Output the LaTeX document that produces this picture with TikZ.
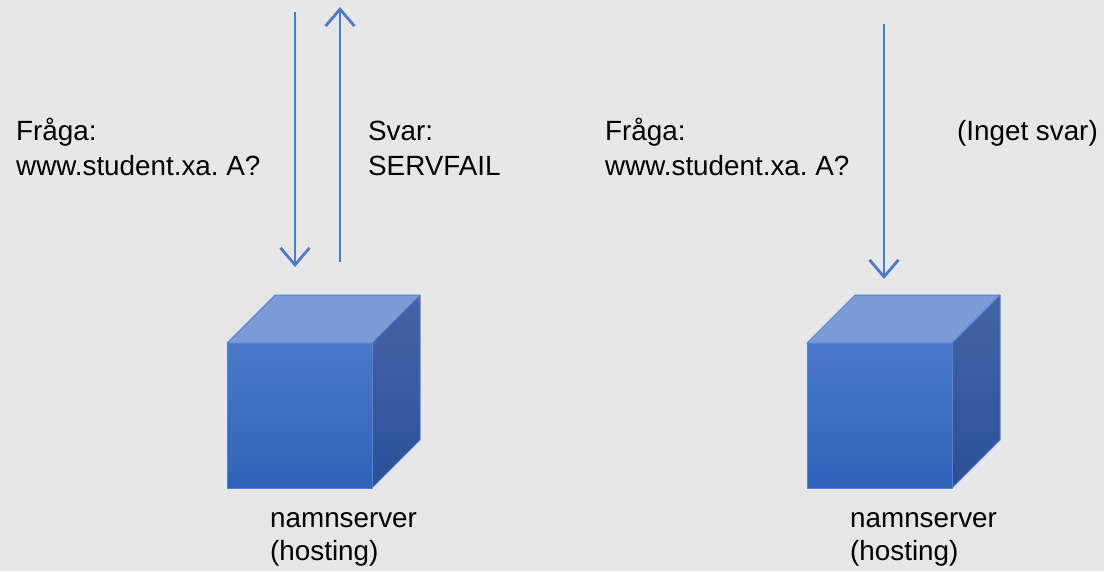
\documentclass[tikz,border=0pt]{standalone}
\usepackage{fontspec}
\setmainfont{Liberation Sans}
\frenchspacing
\usetikzlibrary{arrows.meta}
\definecolor{bgc}{HTML}{E7E7E7}
\definecolor{arrowc}{HTML}{4A7BCC}
\definecolor{fronttop}{HTML}{4B79C9}
\definecolor{frontbot}{HTML}{2F62B9}
\definecolor{topc}{HTML}{7A9BD6}
\definecolor{sidetop}{HTML}{4664A6}
\definecolor{sidebot}{HTML}{2A5098}
\definecolor{edgec}{HTML}{5482D0}
\tikzset{
  lbl/.style={anchor=base west,inner sep=0pt,font=\fontsize{27.8}{35}\selectfont\frenchspacing,align=left,text=black},
  cubelbl/.style={lbl,font=\fontsize{27.8}{33}\selectfont\frenchspacing},
  msg/.style={draw=arrowc,line width=2.8pt,-{Straight Barb[length=17pt,width=29pt,line width=2.8pt]}},
  facee/.style={draw=edgec,line width=1pt,line join=round}
}
\newcommand{\mycube}[2]{% #1 = left x of front face, #2 = name
  \coordinate (#2-fl) at (#1,343);
  \path[facee,top color=sidetop,bottom color=sidebot] (#1+145,343) -- (#1+193,295) -- (#1+193,440) -- (#1+145,488) -- cycle;
  \path[facee,fill=topc] (#1,343) -- (#1+48,295) -- (#1+193,295) -- (#1+145,343) -- cycle;
  \path[facee,top color=fronttop,bottom color=frontbot] (#1,343) rectangle (#1+145,488);
}
\begin{document}
\begin{tikzpicture}[x=1pt,y=-1pt]
\useasboundingbox (0,0) rectangle (1104,571);
\fill[bgc] (0,0) rectangle (1104,571);
% cubes
\mycube{227}{c1}
\mycube{807}{c2}
% arrows
\coordinate (q1s) at (295,12);
\coordinate (q1e) at (295,267);
\coordinate (r1s) at (340,262);
\coordinate (r1e) at (340,7);
\coordinate (q2s) at (884,24);
\coordinate (q2e) at (884,279);
\draw[msg] (q1s) -- (q1e);
\draw[msg] (r1s) -- (r1e);
\draw[msg] (q2s) -- (q2e);
% labels
\node[lbl] (fq1) at (16,175) {Fråga:\\www.student.xa. A?};
\node[lbl] (sv1) at (368,175) {Svar:\\SERVFAIL};
\node[lbl] (fq2) at (605,175) {Fråga:\\www.student.xa. A?};
\node[lbl] (ns) at (957,140) {(Inget svar)};
\node[cubelbl] (n1) at (270,560) {namnserver\\(hosting)};
\node[cubelbl] (n2) at (850,560) {namnserver\\(hosting)};
\end{tikzpicture}
\end{document}
